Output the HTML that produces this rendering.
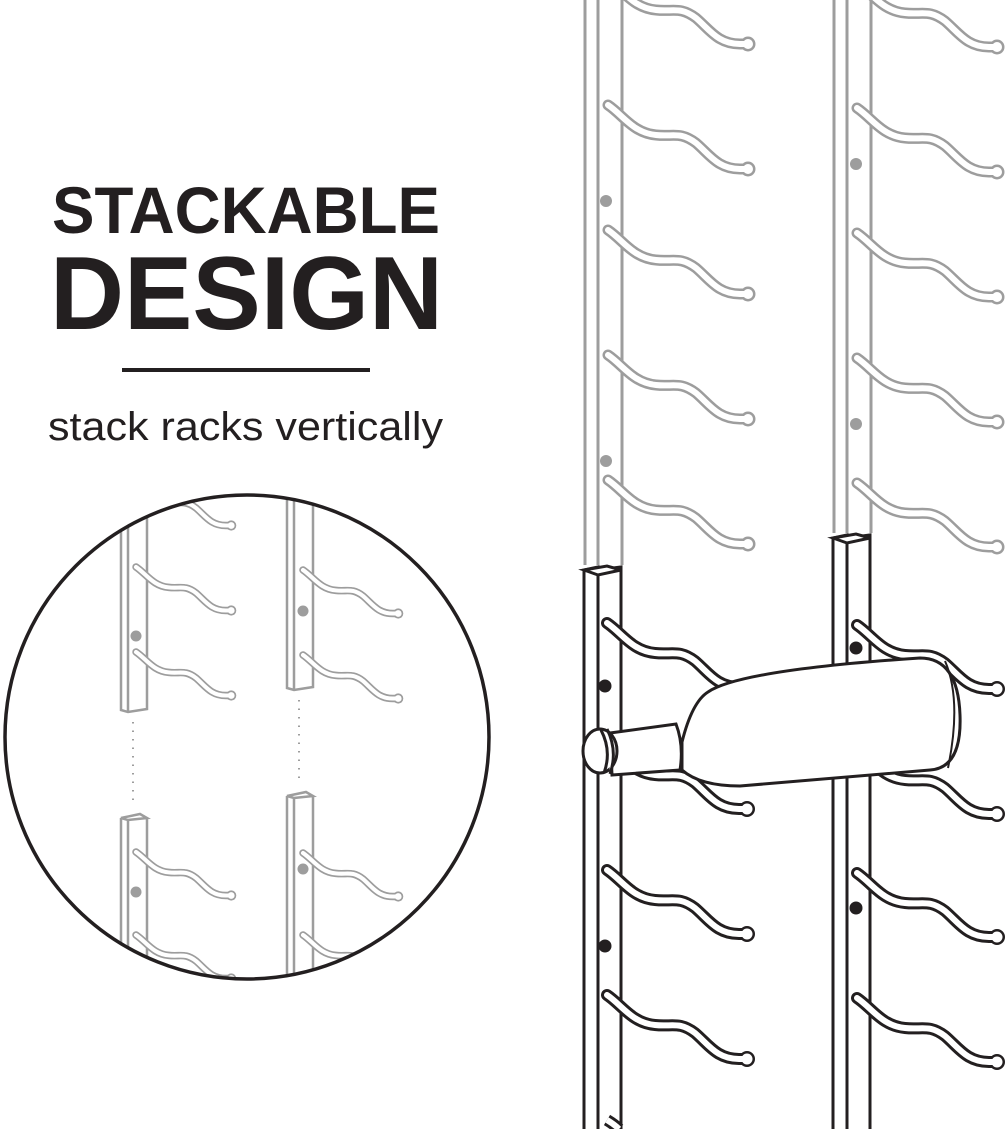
<!DOCTYPE html>
<html><head><meta charset="utf-8"><style>html,body{margin:0;padding:0;background:#fff;overflow:hidden;width:1006px;height:1129px}svg{display:block;overflow:hidden}</style></head>
<body>
<svg width="1006" height="1129" viewBox="0 0 1006 1129" overflow="hidden" xmlns="http://www.w3.org/2000/svg">
<defs>
<g id="pegD">
<path d="M0,0 C15,10 25,28 48,30 C65,32 72,26 88,38 C102,50 110,64 132,64 L140,64" fill="none" stroke="#231f20" stroke-width="12" stroke-linecap="round"/>
<circle cx="140" cy="64" r="8" fill="#231f20"/>
<path d="M0,0 C15,10 25,28 48,30 C65,32 72,26 88,38 C102,50 110,64 132,64 L140,64" fill="none" stroke="#fff" stroke-width="6" stroke-linecap="round"/>
<circle cx="140" cy="64" r="5.5" fill="#fff"/>
</g>
<g id="pegL">
<path d="M0,0 C15,10 25,28 48,30 C65,32 72,26 88,38 C102,50 110,64 132,64 L140,64" fill="none" stroke="#9d9d9d" stroke-width="11" stroke-linecap="round"/>
<circle cx="140" cy="64" r="7.5" fill="#9d9d9d"/>
<path d="M0,0 C15,10 25,28 48,30 C65,32 72,26 88,38 C102,50 110,64 132,64 L140,64" fill="none" stroke="#fff" stroke-width="6" stroke-linecap="round"/>
<circle cx="140" cy="64" r="5" fill="#fff"/>
</g>
<clipPath id="cc"><circle cx="247" cy="737" r="242"/></clipPath>
</defs>
<text x="52" y="233" font-family="Liberation Sans, sans-serif" font-weight="bold" font-size="66" fill="#231f20" textLength="388" lengthAdjust="spacingAndGlyphs">STACKABLE</text>
<text x="50" y="329" font-family="Liberation Sans, sans-serif" font-weight="bold" font-size="104" fill="#231f20" textLength="393" lengthAdjust="spacingAndGlyphs">DESIGN</text>
<rect x="122" y="368" width="248" height="4" fill="#231f20"/>
<text x="48" y="440" font-family="Liberation Sans, sans-serif" font-size="40" fill="#231f20" textLength="395" lengthAdjust="spacingAndGlyphs">stack racks vertically</text>

<g stroke="#9d9d9d" stroke-width="3" fill="none">
<line x1="585" y1="0" x2="585" y2="565"/><line x1="598" y1="0" x2="598" y2="565"/><line x1="622" y1="0" x2="622" y2="565"/>
<line x1="834" y1="0" x2="834" y2="533"/><line x1="847" y1="0" x2="847" y2="533"/><line x1="871" y1="0" x2="871" y2="533"/>
</g>
<use href="#pegL" x="608" y="-20"/><use href="#pegL" x="608" y="105"/><use href="#pegL" x="608" y="230"/><use href="#pegL" x="608" y="355"/><use href="#pegL" x="608" y="480"/>
<use href="#pegL" x="857" y="-17"/><use href="#pegL" x="857" y="108"/><use href="#pegL" x="857" y="233"/><use href="#pegL" x="857" y="358"/><use href="#pegL" x="857" y="483"/>
<g fill="#9d9d9d"><circle cx="606" cy="201" r="6"/><circle cx="606" cy="461" r="6"/><circle cx="856" cy="164" r="6"/><circle cx="856" cy="424" r="6"/></g>

<g stroke="#231f20" stroke-width="3" fill="#fff">
<path d="M584,1129 L584,570 L598,567 L598,1129 M598,570 L621,567 L621,1129"/>
<path d="M584,570 L598,575 L621,570 L607,566 Z"/>
<path d="M833,1129 L833,538 L847,535 L847,1129 M847,538 L870,535 L870,1129"/>
<path d="M833,538 L847,543 L870,538 L856,534 Z"/>
</g>
<use href="#pegD" x="607" y="623"/><use href="#pegD" x="607" y="870"/><use href="#pegD" x="607" y="995"/>
<path d="M607,1120 C612,1123 616,1126 619,1129" fill="none" stroke="#231f20" stroke-width="12" stroke-linecap="butt"/>
<path d="M607,1120 C612,1123 616,1126 619,1129" fill="none" stroke="#fff" stroke-width="6" stroke-linecap="butt"/>
<use href="#pegD" x="857" y="625"/><use href="#pegD" x="857" y="873"/><use href="#pegD" x="857" y="998"/>
<g fill="#231f20"><circle cx="605" cy="686" r="6.5"/><circle cx="605" cy="946" r="6.5"/><circle cx="856" cy="648" r="6.5"/><circle cx="856" cy="908" r="6.5"/></g>

<use href="#pegD" x="607" y="745"/><use href="#pegD" x="857" y="750"/>

<g stroke="#231f20" stroke-width="3" fill="#fff">
<path d="M708,692 Q740,670 920,658 Q958,658 960,715 Q962,768 930,770 L740,786 Q700,786 682,770 L682,742 Q692,702 708,692 Z"/>
<path d="M610,733 L676,724 Q684,745 680,770 L612,775 Z"/>
<ellipse cx="600" cy="751" rx="17" ry="22"/>
<path d="M601,730 Q612,751 604,773 M607,729 Q618,751 610,774"/>
<path d="M945,661 Q962,700 948,768" fill="none" stroke-width="2"/>
</g>

<g clip-path="url(#cc)">
<g stroke="#9d9d9d" stroke-width="2.5" fill="#fff">
<path d="M121,520 L121,710 L128,712 L147,709 L147,510 M128,520 L128,712"/>
<path d="M287,500 L287,688 L294,690 L313,687 L313,500 M294,500 L294,690"/>
<path d="M121,818 L121,975 M128,820 L128,975 M147,818 L147,975 M121,818 L140,814 L147,818 L128,820 Z"/>
<path d="M287,796 L287,975 M294,798 L294,975 M313,796 L313,975 M287,796 L306,792 L313,796 L294,798 Z"/>
</g>
<use href="#pegL" transform="translate(136,482) scale(0.68)"/>
<use href="#pegL" transform="translate(136,567) scale(0.68)"/>
<use href="#pegL" transform="translate(136,652) scale(0.68)"/>
<use href="#pegL" transform="translate(303,570) scale(0.68)"/>
<use href="#pegL" transform="translate(303,655) scale(0.68)"/>
<use href="#pegL" transform="translate(136,852) scale(0.68)"/>
<use href="#pegL" transform="translate(136,935) scale(0.68)"/>
<use href="#pegL" transform="translate(303,853) scale(0.68)"/>
<use href="#pegL" transform="translate(303,935) scale(0.68)"/>
<g fill="#9d9d9d"><circle cx="136" cy="636" r="5.5"/><circle cx="303" cy="611" r="5.5"/><circle cx="136" cy="892" r="5.5"/><circle cx="303" cy="869" r="5.5"/></g>
<g stroke="#9d9d9d" stroke-width="2" stroke-dasharray="1.5 7" fill="none">
<line x1="133" y1="722" x2="133" y2="805"/><line x1="299" y1="700" x2="299" y2="778"/>
</g>
</g>
<circle cx="247" cy="737" r="242" fill="none" stroke="#231f20" stroke-width="3.5"/>
</svg>
</body></html>
